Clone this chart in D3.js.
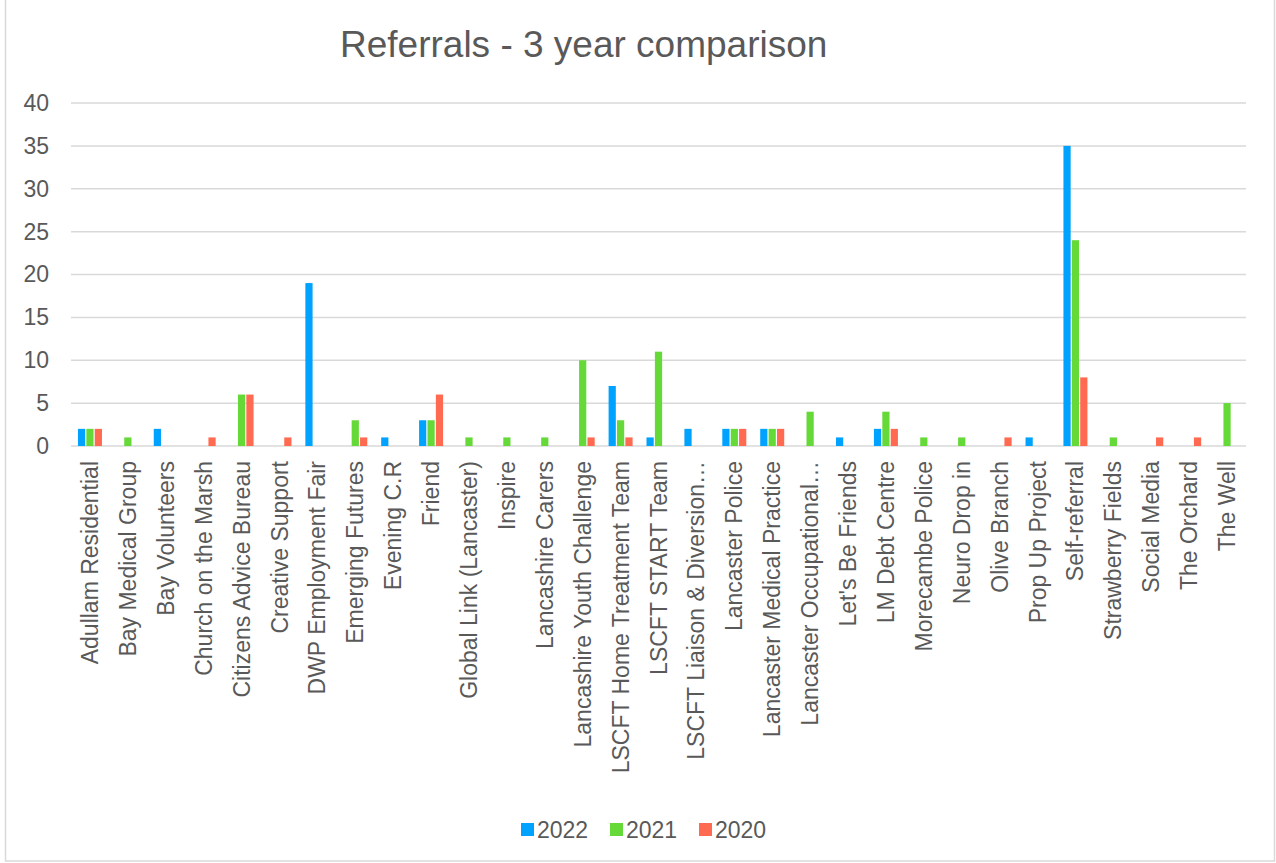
<!DOCTYPE html>
<html>
<head>
<meta charset="utf-8">
<script src="https://cdn.jsdelivr.net/npm/d3@7"></script>
<style>
  html, body { margin: 0; padding: 0; background: #fff; }
  svg { display: block; font-family: "Liberation Sans", Arial, sans-serif; }
</style>
</head>
<body>
<svg id="chart" width="1276" height="863"></svg>
<script>
const categories = [
  "Adullam Residential", "Bay Medical Group", "Bay Volunteers", "Church on the Marsh",
  "Citizens Advice Bureau", "Creative Support", "DWP Employment Fair", "Emerging Futures",
  "Evening C.R", "Friend", "Global Link (Lancaster)", "Inspire", "Lancashire Carers",
  "Lancashire Youth Challenge", "LSCFT Home Treatment Team", "LSCFT START Team",
  "LSCFT Liaison & Diversion…", "Lancaster Police", "Lancaster Medical Practice",
  "Lancaster Occupational…", "Let's Be Friends", "LM Debt Centre", "Morecambe Police",
  "Neuro Drop in", "Olive Branch", "Prop Up Project", "Self-referral", "Strawberry Fields",
  "Social Media", "The Orchard", "The Well"
];
const seriesNames = ["2022", "2021", "2020"];
const values2022 = [2,0,2,0,0,0,19,0,1,3,0,0,0,0,7,1,2,2,2,0,1,2,0,0,0,1,35,0,0,0,0];
const values2021 = [2,1,0,0,6,0,0,3,0,3,1,1,1,10,3,11,0,2,2,4,0,4,1,1,0,0,24,1,0,0,5];
const values2020 = [2,0,0,1,6,1,0,1,0,6,0,0,0,1,1,0,0,2,2,0,0,2,0,0,1,0,8,0,1,1,0];
const colors = ["#00A2FF", "#64D938", "#FF6A50"];
const yTicks = [0, 5, 10, 15, 20, 25, 30, 35, 40];
const title = "Referrals - 3 year comparison";

const seriesValues = [values2022, values2021, values2020];
const svg = d3.select("#chart");

// chart frame
svg.append("rect").attr("x", 5.5).attr("y", -2).attr("width", 1269).attr("height", 863)
  .attr("fill", "none").attr("stroke", "#d9d9d9").attr("stroke-width", 1.5);

const plotLeft = 71, plotRight = 1246, plotTop = 103, plotBottom = 446;

const x = d3.scaleBand().domain(categories).range([plotLeft, plotRight]).padding(0);
const groupW = 24;
const xs = d3.scaleBand().domain(seriesNames).range([0, groupW]).paddingInner(0.14);
const y = d3.scaleLinear().domain([0, 40]).range([plotBottom, plotTop]);

// gridlines
svg.append("g").selectAll("line").data(yTicks).join("line")
  .attr("x1", plotLeft).attr("x2", plotRight)
  .attr("y1", d => y(d)).attr("y2", d => y(d))
  .attr("stroke", "#d9d9d9").attr("stroke-width", 1.5);

// y axis labels
const yAxis = d3.axisLeft(y).tickValues(yTicks).tickSize(0).tickPadding(0);
const gy = svg.append("g").attr("transform", `translate(${plotLeft - 22},0)`).call(yAxis);
gy.select(".domain").remove();
gy.selectAll("text").attr("fill", "#595959").style("font-size", "23px")
  .style("font-family", "'Liberation Sans', Arial, sans-serif");

// bars
seriesNames.forEach((s, si) => {
  svg.append("g").selectAll("rect")
    .data(categories.map((c, i) => ({ c, v: seriesValues[si][i] })).filter(d => d.v > 0))
    .join("rect")
    .attr("x", d => x(d.c) + x.bandwidth() / 2 - groupW / 2 + xs(s))
    .attr("width", xs.bandwidth())
    .attr("y", d => y(d.v))
    .attr("height", d => y(0) - y(d.v))
    .attr("fill", colors[si]);
});

// x axis labels
const xAxis = d3.axisBottom(x).tickSize(0).tickPadding(0);
const gx = svg.append("g").attr("transform", `translate(0,${plotBottom})`).call(xAxis);
gx.select(".domain").remove();
gx.selectAll("text")
  .attr("fill", "#595959")
  .style("font-size", "23px")
  .style("font-family", "'Liberation Sans', Arial, sans-serif")
  .attr("text-anchor", "end")
  .attr("transform", "translate(0,15) rotate(-90)")
  .attr("x", 0).attr("y", 0).attr("dy", "0.35em");

// title
svg.append("text").attr("x", 340).attr("y", 57).text(title)
  .attr("fill", "#595959").style("font-size", "37px");

// legend
const legendX = [521, 610, 699];
const lg = svg.append("g");
seriesNames.forEach((s, i) => {
  lg.append("rect").attr("x", legendX[i]).attr("y", 823).attr("width", 13).attr("height", 13).attr("fill", colors[i]);
  lg.append("text").attr("x", legendX[i] + 16).attr("y", 838).text(s)
    .attr("fill", "#595959").style("font-size", "23px");
});
</script>
</body>
</html>
